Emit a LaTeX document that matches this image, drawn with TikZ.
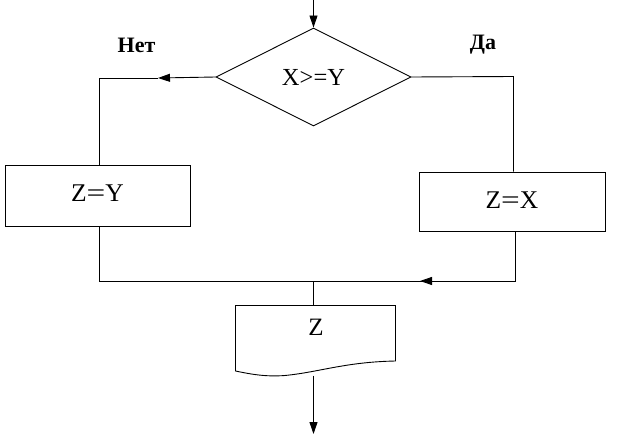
\documentclass[tikz,border=0pt]{standalone}
\usepackage{fontspec}
\usepackage{graphicx}
\setmainfont{Liberation Serif}
\usetikzlibrary{shapes.geometric,arrows.meta}
\newcommand{\weq}{\scalebox{1.3}[1]{=}}
\begin{document}
\begin{tikzpicture}[x=1pt,y=-1pt,
  line/.style={draw=black,line width=0.9pt},
  arr/.style={line,-{Triangle[length=12pt,width=8pt]}},
  procbox/.style={line,rectangle,inner sep=0pt,font=\fontsize{25.5}{29}\selectfont},
  lbl/.style={font=\fontsize{22}{26}\selectfont\bfseries,inner sep=0pt}]
\useasboundingbox (0,0) rectangle (621,436);
% decision
\node[line,diamond,aspect=2,minimum width=195pt,minimum height=98pt,inner sep=0pt,
  font=\fontsize{24.5}{28}\selectfont] (dec) at (313.5,77) {X>=Y};
\coordinate (start) at (313.5,0);
\draw[arr] (start) -- (dec.north);
% labels
\node[lbl] (no) at (136.5,45) {Нет};
\node[lbl] (yes) at (483,45) {Да};
% boxes
\node[procbox,minimum width=185pt,minimum height=61pt] (zy) at (97.5,195.5) {\raisebox{5pt}{Z\weq Y}};
\node[procbox,minimum width=186pt,minimum height=59pt] (zx) at (512,201.5) {\raisebox{3pt}{Z\weq X}};
% left branch
\coordinate (la) at (158,78);
\coordinate (lc) at (99,78);
\draw[arr] (dec.west) -- (la);
\draw[line] (la) -- (lc) -- (zy.north -| lc);
% right branch
\coordinate (rc) at (513.5,76.5);
\draw[line] (dec.east) -- (rc) -- (zx.north -| rc);
% join
\coordinate (jl) at (99,281);
\coordinate (jr) at (515.5,281);
\coordinate (ja) at (420,281);
\coordinate (jm) at (313.5,281);
\draw[line] (zy.south -| jl) -- (jl) -- (jr);
\draw[line] (zx.south -| jr) -- (jr);
\draw[arr] (jr) -- (ja);
% document
\coordinate (dtop) at (313.5,305.5);
\coordinate (dbot) at (313.5,375.5);
\draw[line] (235.5,371) -- (235.5,305.5) -- (395.5,305.5) -- (395.5,361)
  .. controls (345,362) and (320,372) .. (285,375.5)
  .. controls (265,377) and (250,374) .. (235.5,371);
\node[font=\fontsize{25}{29}\selectfont,inner sep=0pt] (zdoc) at (316,327.5) {Z};
\draw[line] (jm) -- (dtop);
\coordinate (end) at (313.5,434);
\draw[arr] (dbot) -- (end);
\end{tikzpicture}
\end{document}
